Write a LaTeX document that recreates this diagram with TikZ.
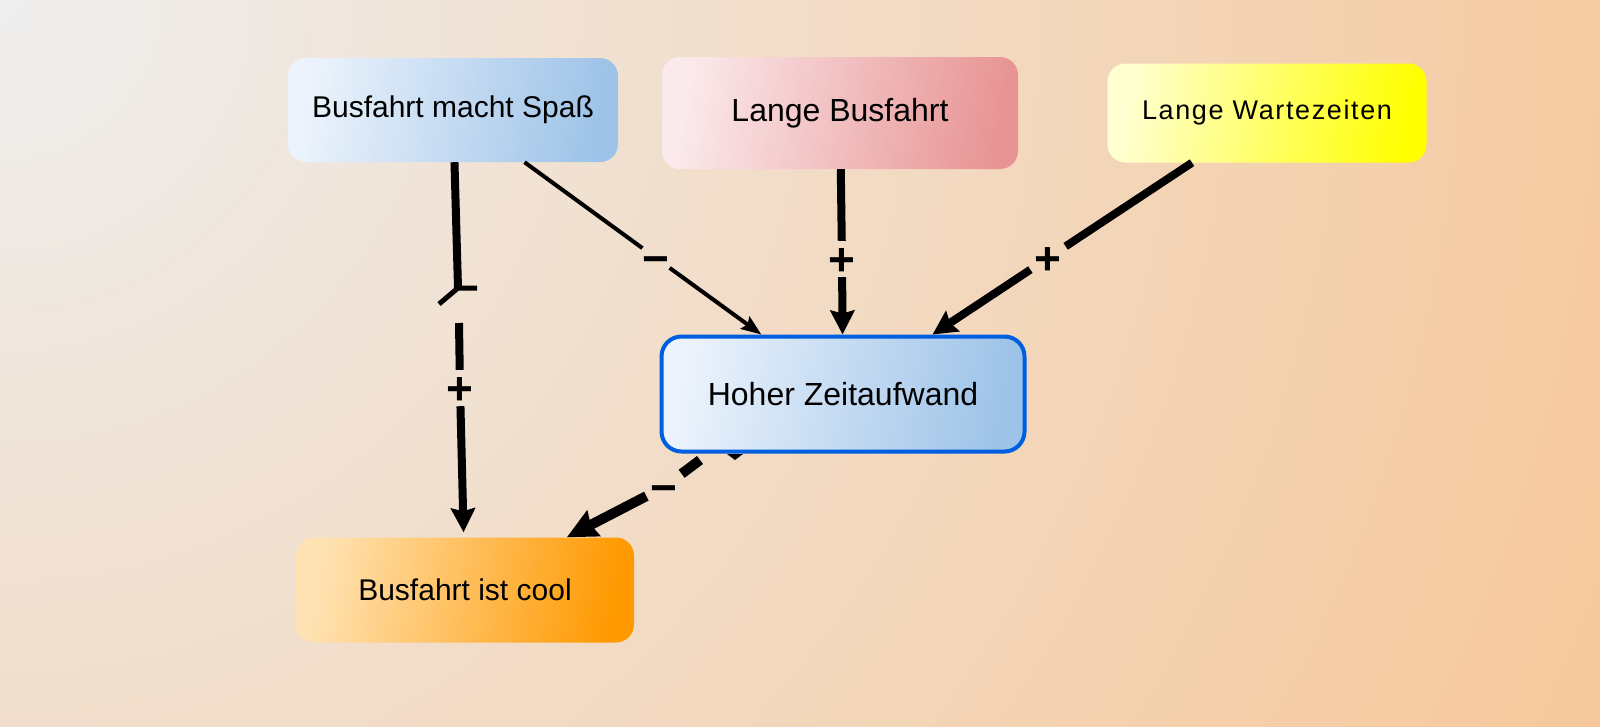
\documentclass[tikz,border=0pt]{standalone}
\usepackage{fontspec}
\setmainfont{Liberation Sans}
\usetikzlibrary{arrows.meta}
\definecolor{bgin}{HTML}{EEEEEE}
\definecolor{bgout}{HTML}{F7C594}
\definecolor{bluelt}{HTML}{ECF3FC}
\definecolor{bluedk}{HTML}{9DC3E8}
\definecolor{rosalt}{HTML}{FBEAEC}
\definecolor{rosadk}{HTML}{E89494}
\definecolor{gelblt}{HTML}{FFFFD2}
\definecolor{gelbdk}{HTML}{FFFF00}
\definecolor{orgelt}{HTML}{FFE3B5}
\definecolor{orgedk}{HTML}{FF9900}
\definecolor{rand}{HTML}{005EE0}

\begin{document}
\begin{tikzpicture}[x=1pt,y=-1pt,font=\fontsize{30}{36}\selectfont,
  bx/.style={rounded corners=18pt,inner sep=0pt,align=center},
  grad/.style 2 args={left color=#1,right color=#2,shading angle=80},
  lbl/.style={font=\fontsize{46}{46}\selectfont\bfseries,inner xsep=4pt,inner ysep=2pt,
              text height=32pt,text depth=0pt},
  ln/.style={line width=8pt},
  a/.style={-{Stealth[length=24pt,width=24pt,inset=3pt]},line width=8pt},
  af/.style={-{Stealth[length=20pt,width=15pt,inset=3pt]},line width=4pt}]

\useasboundingbox (0,0) rectangle (1600,726);
\begin{scope}
\clip (0,0) rectangle (1600,726);
\shade[inner color=bgin,outer color=bgout] (0,0) circle[radius=1900pt];
\end{scope}

\node[bx,grad={bluelt}{bluedk},minimum width=330pt,minimum height=104pt](spass) at (453,110){Busfahrt macht Spaß};
\node[bx,grad={rosalt}{rosadk},minimum width=356pt,minimum height=112pt,font=\fontsize{32}{38}\selectfont](lang) at (840,113){Lange Busfahrt};
\node[bx,grad={gelblt}{gelbdk},minimum width=319pt,minimum height=99pt,font=\fontsize{27}{32}\selectfont\addfontfeature{LetterSpace=6}](warte) at (1267,113){Lange Wartezeiten};
\node[bx,grad={bluelt}{bluedk},draw=rand,line width=4pt,rounded corners=20pt,minimum width=363pt,minimum height=115pt,font=\fontsize{32}{38}\selectfont](hoch) at (843,394){Hoher Zeitaufwand};
\node[bx,grad={orgelt}{orgedk},minimum width=338pt,minimum height=105pt](cool) at (465,590){Busfahrt ist cool};

\node[lbl](p1) at (460,388){+};
\node[lbl,inner xsep=0pt](m1) at (656,258){−};
\node[lbl](p2) at (842,259){+};
\node[lbl](p3) at (1048,258){+};
\node[lbl](m2) at (664,487){−};

% Spass -> cool, with delay mark
\coordinate (d1) at (458,288);
\coordinate (d2) at (459,323);
\draw[ln](spass)--(d1);
\draw[line width=5pt](d1)--+(19,0) (d1)--+(-19,16);
\draw[ln](d2)--(p1);
\draw[a,shorten >=5pt](p1)--(cool);

\draw[line width=4pt](spass)--(m1); \draw[af](m1)--(hoch);
\draw[ln](lang)--(p2); \draw[a](p2)--(hoch);
\draw[ln](warte)--(p3); \draw[a](p3)--(hoch);

% Hoher Zeitaufwand -> cool
\coordinate (h0) at (700,460);
\fill (727,454)--(743,454)--(735,460)--cycle;
\draw[line width=10pt](h0)--(m2);
\draw[-{Stealth[length=30pt,width=28pt,inset=3pt]},line width=10pt](m2)--(cool);
\end{tikzpicture}
\end{document}
